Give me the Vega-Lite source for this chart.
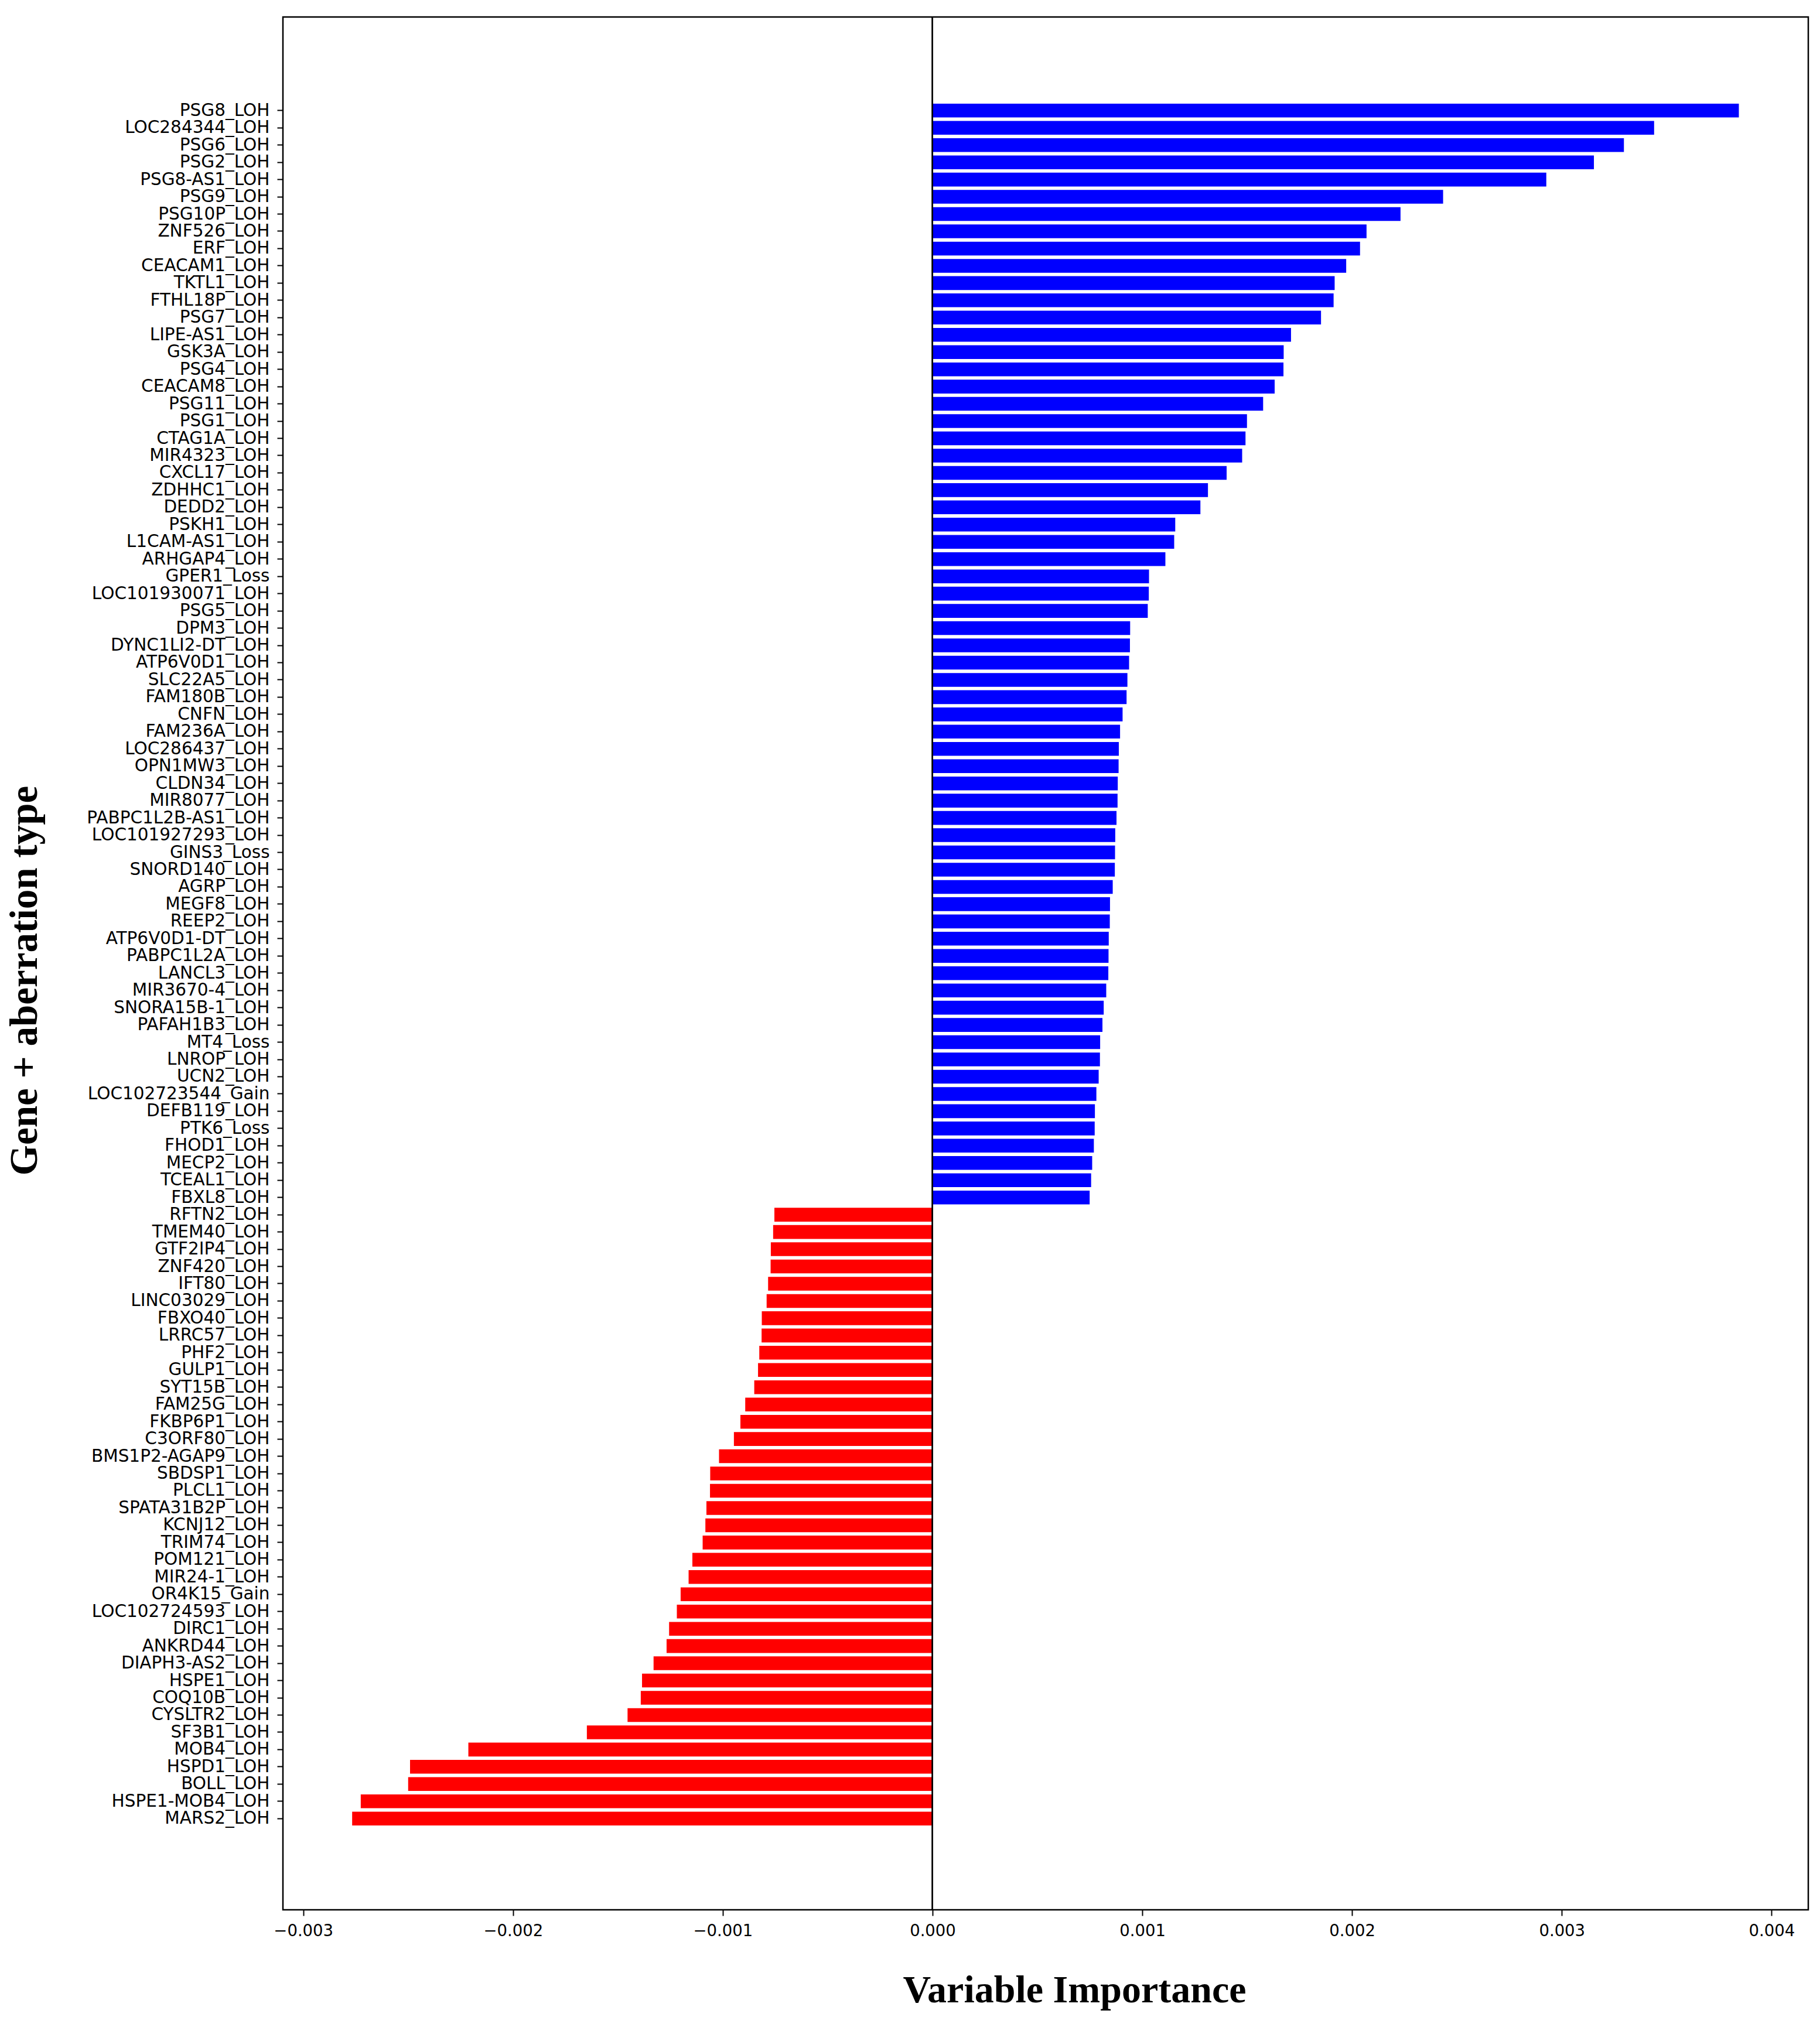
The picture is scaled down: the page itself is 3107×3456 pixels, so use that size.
{
  "$schema": "https://vega.github.io/schema/vega-lite/v6.json",
  "autosize": {"type": "none"},
  "width": 2604,
  "height": 3232,
  "padding": {"left": 483, "top": 29, "right": 20, "bottom": 195},
  "background": "white",
  "config": {
    "view": {"stroke": "black", "strokeWidth": 2.5},
    "axis": {
      "domain": false,
      "grid": false,
      "tickColor": "black",
      "tickWidth": 2,
      "tickSize": 10,
      "labelColor": "black",
      "labelFont": "DejaVu Sans",
      "titleFont": "Liberation Serif",
      "titleFontWeight": "bold",
      "titleFontSize": 66,
      "titleColor": "black"
    }
  },
  "data": {
    "values": [
      {"feature": "PSG8_LOH", "importance": 0.003844},
      {"feature": "LOC284344_LOH", "importance": 0.003440},
      {"feature": "PSG6_LOH", "importance": 0.003296},
      {"feature": "PSG2_LOH", "importance": 0.003153},
      {"feature": "PSG8-AS1_LOH", "importance": 0.002926},
      {"feature": "PSG9_LOH", "importance": 0.002434},
      {"feature": "PSG10P_LOH", "importance": 0.002231},
      {"feature": "ZNF526_LOH", "importance": 0.002069},
      {"feature": "ERF_LOH", "importance": 0.002038},
      {"feature": "CEACAM1_LOH", "importance": 0.001972},
      {"feature": "TKTL1_LOH", "importance": 0.001917},
      {"feature": "FTHL18P_LOH", "importance": 0.001912},
      {"feature": "PSG7_LOH", "importance": 0.001852},
      {"feature": "LIPE-AS1_LOH", "importance": 0.001709},
      {"feature": "GSK3A_LOH", "importance": 0.001674},
      {"feature": "PSG4_LOH", "importance": 0.001673},
      {"feature": "CEACAM8_LOH", "importance": 0.001631},
      {"feature": "PSG11_LOH", "importance": 0.001576},
      {"feature": "PSG1_LOH", "importance": 0.001499},
      {"feature": "CTAG1A_LOH", "importance": 0.001492},
      {"feature": "MIR4323_LOH", "importance": 0.001476},
      {"feature": "CXCL17_LOH", "importance": 0.001402},
      {"feature": "ZDHHC1_LOH", "importance": 0.001313},
      {"feature": "DEDD2_LOH", "importance": 0.001277},
      {"feature": "PSKH1_LOH", "importance": 0.001157},
      {"feature": "L1CAM-AS1_LOH", "importance": 0.001152},
      {"feature": "ARHGAP4_LOH", "importance": 0.001110},
      {"feature": "GPER1_Loss", "importance": 0.001032},
      {"feature": "LOC101930071_LOH", "importance": 0.001031},
      {"feature": "PSG5_LOH", "importance": 0.001026},
      {"feature": "DPM3_LOH", "importance": 0.000942},
      {"feature": "DYNC1LI2-DT_LOH", "importance": 0.000941},
      {"feature": "ATP6V0D1_LOH", "importance": 0.000937},
      {"feature": "SLC22A5_LOH", "importance": 0.000929},
      {"feature": "FAM180B_LOH", "importance": 0.000925},
      {"feature": "CNFN_LOH", "importance": 0.000906},
      {"feature": "FAM236A_LOH", "importance": 0.000894},
      {"feature": "LOC286437_LOH", "importance": 0.000888},
      {"feature": "OPN1MW3_LOH", "importance": 0.000887},
      {"feature": "CLDN34_LOH", "importance": 0.000883},
      {"feature": "MIR8077_LOH", "importance": 0.000882},
      {"feature": "PABPC1L2B-AS1_LOH", "importance": 0.000877},
      {"feature": "LOC101927293_LOH", "importance": 0.000871},
      {"feature": "GINS3_Loss", "importance": 0.000870},
      {"feature": "SNORD140_LOH", "importance": 0.000869},
      {"feature": "AGRP_LOH", "importance": 0.000859},
      {"feature": "MEGF8_LOH", "importance": 0.000846},
      {"feature": "REEP2_LOH", "importance": 0.000845},
      {"feature": "ATP6V0D1-DT_LOH", "importance": 0.000840},
      {"feature": "PABPC1L2A_LOH", "importance": 0.000839},
      {"feature": "LANCL3_LOH", "importance": 0.000838},
      {"feature": "MIR3670-4_LOH", "importance": 0.000828},
      {"feature": "SNORA15B-1_LOH", "importance": 0.000816},
      {"feature": "PAFAH1B3_LOH", "importance": 0.000810},
      {"feature": "MT4_Loss", "importance": 0.000799},
      {"feature": "LNROP_LOH", "importance": 0.000798},
      {"feature": "UCN2_LOH", "importance": 0.000792},
      {"feature": "LOC102723544_Gain", "importance": 0.000781},
      {"feature": "DEFB119_LOH", "importance": 0.000774},
      {"feature": "PTK6_Loss", "importance": 0.000773},
      {"feature": "FHOD1_LOH", "importance": 0.000769},
      {"feature": "MECP2_LOH", "importance": 0.000761},
      {"feature": "TCEAL1_LOH", "importance": 0.000756},
      {"feature": "FBXL8_LOH", "importance": 0.000749},
      {"feature": "RFTN2_LOH", "importance": -0.000754},
      {"feature": "TMEM40_LOH", "importance": -0.000760},
      {"feature": "GTF2IP4_LOH", "importance": -0.000771},
      {"feature": "ZNF420_LOH", "importance": -0.000772},
      {"feature": "IFT80_LOH", "importance": -0.000784},
      {"feature": "LINC03029_LOH", "importance": -0.000791},
      {"feature": "FBXO40_LOH", "importance": -0.000814},
      {"feature": "LRRC57_LOH", "importance": -0.000815},
      {"feature": "PHF2_LOH", "importance": -0.000826},
      {"feature": "GULP1_LOH", "importance": -0.000832},
      {"feature": "SYT15B_LOH", "importance": -0.000850},
      {"feature": "FAM25G_LOH", "importance": -0.000893},
      {"feature": "FKBP6P1_LOH", "importance": -0.000916},
      {"feature": "C3ORF80_LOH", "importance": -0.000947},
      {"feature": "BMS1P2-AGAP9_LOH", "importance": -0.001018},
      {"feature": "SBDSP1_LOH", "importance": -0.001060},
      {"feature": "PLCL1_LOH", "importance": -0.001061},
      {"feature": "SPATA31B2P_LOH", "importance": -0.001078},
      {"feature": "KCNJ12_LOH", "importance": -0.001083},
      {"feature": "TRIM74_LOH", "importance": -0.001096},
      {"feature": "POM121_LOH", "importance": -0.001145},
      {"feature": "MIR24-1_LOH", "importance": -0.001163},
      {"feature": "OR4K15_Gain", "importance": -0.001201},
      {"feature": "LOC102724593_LOH", "importance": -0.001219},
      {"feature": "DIRC1_LOH", "importance": -0.001256},
      {"feature": "ANKRD44_LOH", "importance": -0.001268},
      {"feature": "DIAPH3-AS2_LOH", "importance": -0.001330},
      {"feature": "HSPE1_LOH", "importance": -0.001385},
      {"feature": "COQ10B_LOH", "importance": -0.001391},
      {"feature": "CYSLTR2_LOH", "importance": -0.001454},
      {"feature": "SF3B1_LOH", "importance": -0.001648},
      {"feature": "MOB4_LOH", "importance": -0.002213},
      {"feature": "HSPD1_LOH", "importance": -0.002491},
      {"feature": "BOLL_LOH", "importance": -0.002500},
      {"feature": "HSPE1-MOB4_LOH", "importance": -0.002726},
      {"feature": "MARS2_LOH", "importance": -0.002767}
    ]
  },
  "layer": [
    {
      "mark": {"type": "bar"},
      "encoding": {
        "y": {
          "field": "feature",
          "type": "nominal",
          "sort": null,
          "scale": {"paddingInner": 0.2, "paddingOuter": 0, "range": [148, 3088]},
          "axis": {
            "title": "Gene + aberration type",
            "labelFontSize": 29.5,
            "labelLimit": 1000,
            "labelPadding": 13,
            "titleAngle": -90,
            "titleAlign": "center",
            "titleBaseline": "alphabetic",
            "titleX": -421,
            "titleY": 1645,
            "titleFontSize": 67
          }
        },
        "x": {
          "field": "importance",
          "type": "quantitative",
          "scale": {"domain": [-0.003097, 0.004175], "nice": false, "zero": false},
          "axis": {
            "title": "Variable Importance",
            "values": [-0.003, -0.002, -0.001, 0, 0.001, 0.002, 0.003, 0.004],
            "format": ".3f",
            "labelFontSize": 27.5,
            "labelPadding": 12,
            "titleAlign": "center",
            "titleBaseline": "alphabetic",
            "titleX": 1351,
            "titleY": 157
          }
        },
        "x2": {"datum": 0},
        "color": {
          "condition": {"test": "datum.importance > 0", "value": "#0000ff"},
          "value": "#ff0000"
        }
      }
    },
    {
      "mark": {"type": "rule", "color": "black", "strokeWidth": 2},
      "encoding": {
        "x": {"datum": 0}
      }
    }
  ]
}
